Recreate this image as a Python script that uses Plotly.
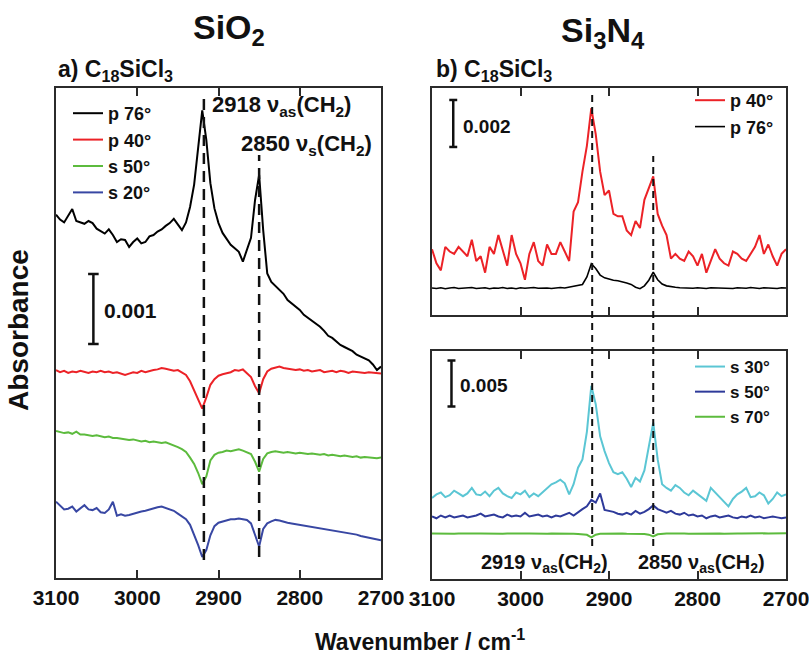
import plotly.graph_objects as go

# ---------------- data ----------------
wavenumber = list(range(3100, 2695, -5))  # 3100 ... 2700 cm-1 (81 points)

# Panel a) SiO2 (offset absorbance, units of 1e-3)
sio2_p76 = [5.19, 5.12, 5.08, 5.18, 5.27, 5.10, 5.08, 5.06, 5.10, 5.07,
            4.99, 4.95, 4.92, 4.98, 4.90, 4.80, 4.84, 4.83, 4.73, 4.80,
            4.85, 4.78, 4.80, 4.88, 4.90, 4.95, 4.98, 5.03, 5.07, 5.13,
            5.05, 4.97, 5.08, 5.30, 5.62, 6.15, 6.68, 6.26, 5.64, 5.28,
            5.07, 4.93, 4.85, 4.76, 4.71, 4.66, 4.52, 4.70, 4.86, 5.40,
            5.76, 4.97, 4.35, 4.23, 4.17, 4.11, 4.06, 3.97, 3.92, 3.88,
            3.83, 3.76, 3.72, 3.67, 3.63, 3.59, 3.53, 3.46, 3.43, 3.38,
            3.33, 3.30, 3.27, 3.24, 3.19, 3.16, 3.13, 3.11, 3.05, 2.97, 3.02]
sio2_p40 = [2.97, 2.94, 2.96, 2.93, 2.95, 2.94, 2.96, 2.95, 2.93, 2.95,
            2.94, 2.96, 2.94, 2.95, 2.93, 2.94, 2.92, 2.90, 2.92, 2.94,
            2.93, 2.96, 2.94, 2.96, 2.97, 2.98, 3.00, 2.99, 2.97, 2.96,
            2.97, 2.94, 2.90, 2.81, 2.68, 2.56, 2.42, 2.58, 2.76, 2.84,
            2.89, 2.91, 2.92, 2.94, 2.97, 2.96, 2.98, 2.93, 2.87, 2.74,
            2.64, 2.84, 2.95, 2.99, 3.00, 3.02, 3.00, 2.99, 2.98, 2.97,
            2.98, 2.96, 2.97, 2.95, 2.96, 2.97, 2.94, 2.95, 2.96, 2.94,
            2.96, 2.95, 2.93, 2.95, 2.94, 2.94, 2.93, 2.94, 2.93, 2.93, 2.92]
sio2_s50 = [2.10, 2.09, 2.07, 2.08, 2.06, 2.09, 2.05, 2.05, 2.04, 2.03,
            2.04, 2.02, 2.01, 2.02, 2.00, 2.00, 1.99, 1.98, 1.97, 1.98,
            1.96, 1.95, 1.96, 1.94, 1.95, 1.94, 1.93, 1.94, 1.92, 1.90,
            1.87, 1.84, 1.80, 1.72, 1.63, 1.50, 1.34, 1.45, 1.68, 1.76,
            1.79, 1.80, 1.82, 1.81, 1.83, 1.84, 1.82, 1.80, 1.77, 1.66,
            1.52, 1.70, 1.78, 1.80, 1.81, 1.80, 1.79, 1.80, 1.79, 1.78,
            1.79, 1.78, 1.77, 1.78, 1.77, 1.76, 1.77, 1.75, 1.76, 1.75,
            1.74, 1.75, 1.74, 1.73, 1.74, 1.72, 1.73, 1.72, 1.72, 1.71, 1.72]
sio2_s20 = [1.09, 1.04, 0.98, 0.99, 1.02, 0.95, 1.00, 1.04, 0.98, 0.97,
            1.00, 0.94, 0.93, 0.98, 1.09, 0.89, 0.91, 0.89, 0.90, 0.92,
            0.93, 0.95, 0.96, 0.98, 0.99, 1.01, 1.02, 1.00, 0.99, 0.96,
            0.92, 0.88, 0.84, 0.76, 0.62, 0.47, 0.30, 0.40, 0.61, 0.74,
            0.79, 0.81, 0.83, 0.84, 0.84, 0.85, 0.84, 0.83, 0.78, 0.62,
            0.45, 0.70, 0.78, 0.81, 0.83, 0.82, 0.80, 0.79, 0.78, 0.77,
            0.76, 0.75, 0.74, 0.74, 0.73, 0.72, 0.71, 0.70, 0.69, 0.68,
            0.66, 0.66, 0.64, 0.63, 0.62, 0.60, 0.59, 0.57, 0.56, 0.55, 0.54]

# Panel b) Si3N4, p-polarised (units of 1e-3)
si3n4_p40 = [2.8, 2.2, 1.9, 2.9, 2.7, 2.6, 2.9, 2.7, 2.5, 3.2,
             2.3, 2.5, 1.8, 2.9, 2.6, 3.4, 2.7, 2.1, 3.4, 2.6,
             2.2, 1.5, 2.6, 3.1, 2.3, 2.1, 3.0, 2.6, 2.6, 3.1,
             2.7, 2.3, 4.4, 4.8, 6.1, 7.2, 8.8, 7.7, 6.1, 5.1,
             5.3, 4.3, 4.2, 4.2, 3.6, 3.4, 4.0, 3.7, 4.9, 5.4,
             5.9, 4.3, 3.8, 3.4, 2.4, 2.6, 2.4, 2.3, 2.7, 2.5,
             2.1, 2.6, 1.8, 2.3, 2.8, 2.4, 2.2, 2.1, 2.7, 2.6,
             2.4, 2.3, 2.6, 2.9, 3.4, 2.6, 3.0, 2.5, 2.1, 2.6, 2.8]
si3n4_p76 = [1.15, 1.13, 1.16, 1.12, 1.15, 1.17, 1.13, 1.15, 1.14, 1.17,
             1.13, 1.15, 1.16, 1.12, 1.15, 1.14, 1.17, 1.13, 1.15, 1.12,
             1.16, 1.14, 1.15, 1.17, 1.14, 1.16, 1.15, 1.13, 1.16, 1.17,
             1.15, 1.19, 1.20, 1.24, 1.30, 1.62, 2.18, 1.98, 1.70, 1.58,
             1.52, 1.48, 1.46, 1.42, 1.36, 1.30, 1.18, 1.12, 1.24, 1.48,
             1.82, 1.50, 1.32, 1.24, 1.20, 1.18, 1.16, 1.15, 1.17, 1.14,
             1.16, 1.15, 1.13, 1.16, 1.15, 1.17, 1.14, 1.15, 1.13, 1.16,
             1.15, 1.14, 1.17, 1.15, 1.13, 1.16, 1.14, 1.15, 1.13, 1.16, 1.15]

# Panel b) Si3N4, s-polarised (units of 1e-3)
si3n4_s30 = [8.8, 9.2, 9.4, 8.9, 9.1, 9.6, 9.3, 9.0, 9.3, 9.9,
             9.2, 9.1, 9.5, 9.0, 9.6, 9.9, 9.3, 9.0, 8.8, 9.4,
             9.2, 9.6, 8.9, 9.3, 9.0, 9.4, 9.8, 10.3, 10.5, 10.8,
             10.4, 9.2, 10.3, 12.1, 13.0, 16.0, 21.0, 19.0, 15.5, 13.9,
             12.6, 11.6, 11.4, 11.6, 10.9, 10.0, 11.0, 10.6, 11.8, 14.5,
             17.0, 13.0, 10.3, 9.9, 9.6, 10.2, 9.9, 9.4, 9.1, 9.6,
             9.2, 8.8, 8.5, 9.9, 9.4, 8.9, 8.4, 7.9, 8.7, 9.2,
             9.5, 9.9, 8.9, 9.0, 9.4, 9.1, 8.2, 8.7, 9.4, 9.0, 9.2]
si3n4_s50 = [6.8, 6.6, 6.9, 6.7, 6.9, 6.7, 6.8, 6.9, 6.7, 6.8,
             6.9, 7.1, 6.8, 6.9, 7.0, 6.8, 6.7, 7.0, 6.8, 6.9,
             6.8, 7.2, 6.8, 6.9, 7.0, 6.8, 6.9, 6.7, 6.9, 6.8,
             7.0, 7.2, 6.9, 7.3, 7.6, 7.9, 8.6, 8.3, 9.3, 7.5,
             7.4, 7.3, 7.1, 7.0, 7.2, 7.0, 7.4, 7.1, 7.3, 7.6,
             8.0, 7.6, 7.4, 7.2, 7.4, 7.1, 7.0, 7.2, 6.9, 7.0,
             6.8, 6.9, 6.6, 6.8, 6.9, 6.7, 6.8, 6.9, 6.7, 6.6,
             6.8, 6.7, 6.9, 6.7, 6.8, 6.6, 6.7, 6.8, 6.7, 6.6, 6.7]
si3n4_s70 = [4.95, 4.93, 4.96, 4.94, 4.95, 4.92, 4.94, 4.96, 4.93, 4.95,
             4.94, 4.95, 4.93, 4.96, 4.94, 4.95, 4.93, 4.94, 4.96, 4.94,
             4.93, 4.95, 4.94, 4.92, 4.94, 4.95, 4.93, 4.94, 4.95, 4.93,
             4.94, 4.92, 4.93, 4.90, 4.88, 4.80, 4.52, 4.82, 4.92, 4.94,
             4.95, 4.93, 4.94, 4.95, 4.93, 4.94, 4.93, 4.92, 4.90, 4.82,
             4.62, 4.86, 4.93, 4.95, 4.94, 4.96, 4.94, 4.95, 4.93, 4.94,
             4.96, 4.94, 4.95, 4.93, 4.94, 4.95, 4.93, 4.96, 4.94, 4.95,
             4.94, 4.96, 4.95, 4.93, 4.94, 4.96, 4.95, 4.94, 4.96, 4.95, 4.96]

tick_vals = [3100, 3000, 2900, 2800, 2700]
peak_as_sio2, peak_as_si3n4, peak_s = 2918, 2919, 2850

# ---------------- figure ----------------
W, H = 809, 657
FONT = "Liberation Sans, Arial, Helvetica, sans-serif"
FRAME = "#2b2b2b"

def px_x(p):
    return p / W

def px_y(p):
    return 1 - p / H

fig = go.Figure()

def add(x, y, name, color, xa, ya, legend, width=2.0):
    fig.add_trace(go.Scatter(x=x, y=y, name=name, mode="lines",
                             line=dict(color=color, width=width),
                             xaxis=xa, yaxis=ya, legend=legend))

add(wavenumber, sio2_p76, "p 76°", "#000000", "x", "y", "legend")
add(wavenumber, sio2_p40, "p 40°", "#ec2227", "x", "y", "legend")
add(wavenumber, sio2_s50, "s 50°", "#5cbb3d", "x", "y", "legend")
add(wavenumber, sio2_s20, "s 20°", "#3847a3", "x", "y", "legend")

add(wavenumber, si3n4_p40, "p 40°", "#ec2227", "x2", "y2", "legend2")
add(wavenumber, si3n4_p76, "p 76°", "#000000", "x2", "y2", "legend2", 1.6)

add(wavenumber, si3n4_s30, "s 30°", "#5bc6d4", "x3", "y3", "legend3")
add(wavenumber, si3n4_s50, "s 50°", "#2e3a9a", "x3", "y3", "legend3")
add(wavenumber, si3n4_s70, "s 70°", "#5cbb3d", "x3", "y3", "legend3")

xcommon = dict(range=[3100, 2700], tickvals=tick_vals, ticks="inside", ticklen=8,
               tickwidth=2, tickcolor=FRAME, showline=True, linecolor=FRAME,
               linewidth=2, mirror="ticks", showgrid=False, zeroline=False,
               tickfont=dict(family=FONT, size=21, color="#111111", weight="bold"),
               ticklabelstandoff=0, ticklabeloverflow="allow", automargin=False)
ycommon = dict(showline=True, linecolor=FRAME, linewidth=2, mirror=True,
               showgrid=False, zeroline=False, showticklabels=False, ticks="",
               automargin=False)

fig.update_layout(
    width=W, height=H, margin=dict(l=0, r=0, t=0, b=0, autoexpand=False),
    paper_bgcolor="white", plot_bgcolor="white",
    font=dict(family=FONT, color="#111111"),
    xaxis=dict(domain=[px_x(56), px_x(381)], anchor="y", **xcommon),
    yaxis=dict(domain=[px_y(578), px_y(88)], anchor="x", range=[0, 7], **ycommon),
    xaxis2=dict(domain=[px_x(432), px_x(786)], anchor="y2", **{**xcommon, "showticklabels": False}),
    yaxis2=dict(domain=[px_y(315), px_y(88)], anchor="x2", range=[0, 227 / 23.5], **ycommon),
    xaxis3=dict(domain=[px_x(432), px_x(786)], anchor="y3", **xcommon),
    yaxis3=dict(domain=[px_y(579), px_y(351)], anchor="x3", range=[0, 228 / 9.2], **ycommon),
)

legend_font = dict(family=FONT, size=18, color="#111111", weight="bold")
fig.update_layout(
    legend=dict(x=px_x(68), y=px_y(95), xanchor="left", yanchor="top",
                bgcolor="rgba(0,0,0,0)", font=legend_font, tracegroupgap=0),
    legend2=dict(x=px_x(690), y=px_y(82), xanchor="left", yanchor="top",
                 bgcolor="rgba(0,0,0,0)", font=legend_font, tracegroupgap=0),
    legend3=dict(x=px_x(690), y=px_y(349), xanchor="left", yanchor="top",
                 bgcolor="rgba(0,0,0,0)", font={**legend_font, "size": 17},
                 tracegroupgap=0),
)

# dashed peak markers
shapes = []
shapes.append(dict(type="line", xref="x", yref="y", x0=peak_as_sio2, x1=peak_as_sio2,
                   y0=(578 - 560) / 70, y1=(578 - 94) / 70,
                   line=dict(color="#111111", width=2.5, dash="11px,7px")))
shapes.append(dict(type="line", xref="x", yref="y", x0=peak_s, x1=peak_s,
                   y0=(578 - 557) / 70, y1=(578 - 155) / 70,
                   line=dict(color="#111111", width=2.5, dash="11px,7px")))
shapes.append(dict(type="line", xref="x2", yref="paper", x0=peak_as_si3n4, x1=peak_as_si3n4,
                   y0=px_y(546), y1=px_y(95),
                   line=dict(color="#111111", width=2, dash="7px,5px")))
shapes.append(dict(type="line", xref="x2", yref="paper", x0=peak_s, x1=peak_s,
                   y0=px_y(546), y1=px_y(156),
                   line=dict(color="#111111", width=2, dash="7px,5px")))

# scale bars
def scalebar(xref, yref, x, y0, y1, half):
    out = [dict(type="line", xref=xref, yref=yref, x0=x, x1=x, y0=y0, y1=y1,
                line=dict(color="#111111", width=2.5))]
    for yy in (y0, y1):
        out.append(dict(type="line", xref=xref, yref=yref, x0=x - half, x1=x + half,
                        y0=yy, y1=yy, line=dict(color="#111111", width=2.5)))
    return out

shapes += scalebar("x", "y", 3054, 3.343, 4.343, 6.5)
shapes += scalebar("x2", "y2", 3076, 7.15, 9.15, 4.5)
shapes += scalebar("x3", "y3", 3078, 18.75, 23.75, 4.5)
fig.update_layout(shapes=shapes)

ann = []
def text(x, y, s, size, xanchor="left", yanchor="middle", angle=0):
    ann.append(dict(x=px_x(x), y=px_y(y), xref="paper", yref="paper", text=s,
                    showarrow=False, xanchor=xanchor, yanchor=yanchor, textangle=angle,
                    font=dict(family=FONT, size=size, color="#111111", weight="bold")))

text(229, 29, "SiO<sub>2</sub>", 34, xanchor="center")
text(603, 32, "Si<sub>3</sub>N<sub>4</sub>", 34, xanchor="center")
text(56, 70, "a) C<sub>18</sub>SiCl<sub>3</sub>", 23)
text(434, 70, "b) C<sub>18</sub>SiCl<sub>3</sub>", 23)
text(210, 106, "2918 ν<sub>as</sub>(CH<sub>2</sub>)", 22)
text(239, 145, "2850 ν<sub>s</sub>(CH<sub>2</sub>)", 22)
text(479, 563, "2919 ν<sub>as</sub>(CH<sub>2</sub>)", 20)
text(636, 563, "2850 ν<sub>as</sub>(CH<sub>2</sub>)", 20)
text(102, 310, "0.001", 21)
text(461, 126, "0.002", 19)
text(458, 385, "0.005", 19)
text(420, 640, "Wavenumber / cm<sup>-1</sup>", 23, xanchor="center")
text(18, 330, "Absorbance", 28, xanchor="center", angle=-90)
fig.update_layout(annotations=ann)

fig.write_html("out.html", config={"displayModeBar": False},
               post_script="document.body.style.margin='0';")
